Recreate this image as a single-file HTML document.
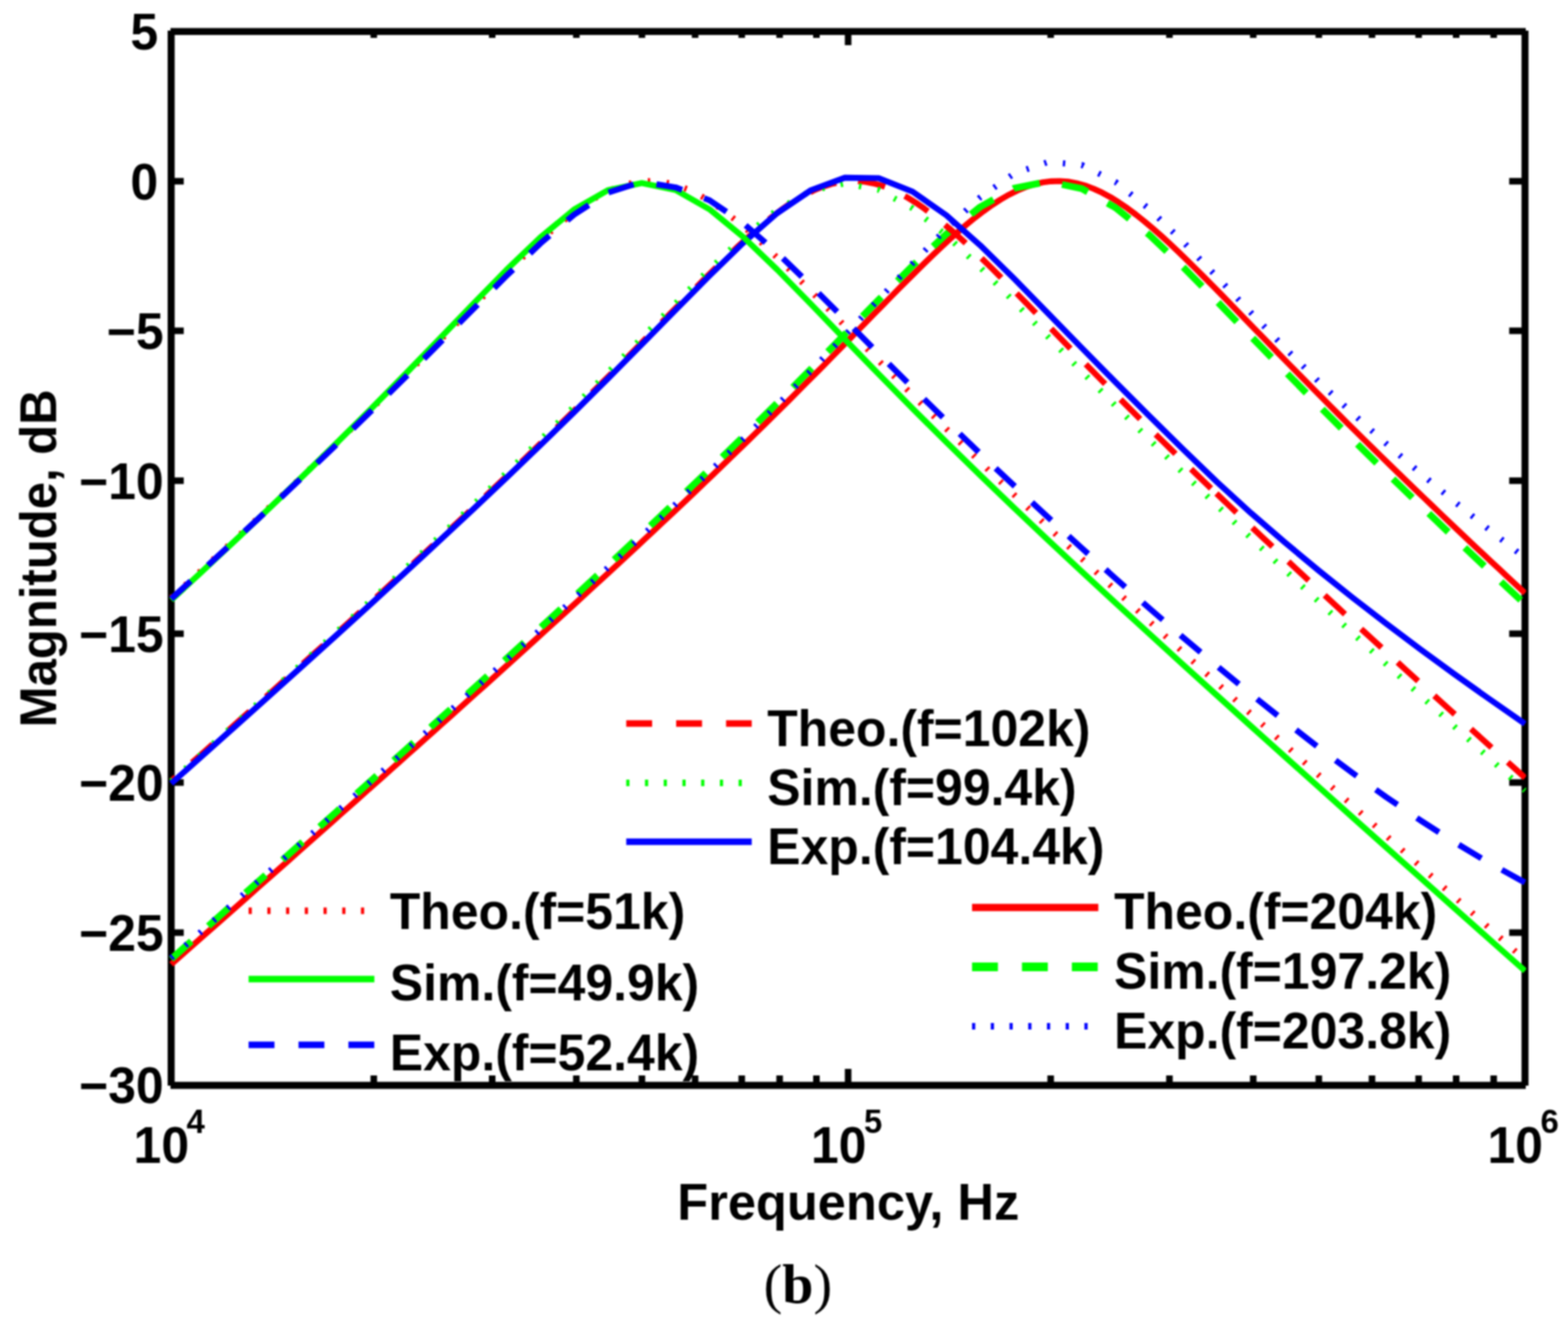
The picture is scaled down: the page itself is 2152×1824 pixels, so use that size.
<!DOCTYPE html>
<html lang="en"><head><meta charset="utf-8"><title>Magnitude response (b)</title>
<style>html,body{margin:0;padding:0;background:#fff}body{width:2152px;height:1824px;overflow:hidden}svg{display:block;filter:blur(0.8px)}text{font-family:"Liberation Sans",Arial,Helvetica,sans-serif;font-weight:bold;fill:#000}.t{font-size:70.5px}.s{font-size:46.5px}.c{font-family:"Liberation Serif","DejaVu Serif",serif;font-size:77px;font-weight:normal}.c tspan{font-weight:bold}.ax{stroke:#000;fill:none}.cv{fill:none;stroke-linejoin:round}</style></head><body>
<svg xmlns="http://www.w3.org/2000/svg" width="2152" height="1824" viewBox="0 0 2152 1824">
<defs><clipPath id="pc"><rect x="229" y="30" width="1865.5" height="1470"/></clipPath></defs>
<rect width="2152" height="1824" fill="#fff"/>
<path class="ax" stroke-width="9.6" d="M234 43.3 H2094 M234 1489.6 H2094 M234.9 42 V1490 M2093.0 42 V1490"/>
<path class="ax" stroke-width="9" d="M513.0 1489.6 V1476.0 M513.0 43.3 V52.0 M675.5 1489.6 V1476.0 M675.5 43.3 V52.0 M791.0 1489.6 V1476.0 M791.0 43.3 V52.0 M881.0 1489.6 V1476.0 M881.0 43.3 V52.0 M954.0 1489.6 V1476.0 M954.0 43.3 V52.0 M1018.0 1489.6 V1476.0 M1018.0 43.3 V52.0 M1070.0 1489.6 V1476.0 M1070.0 43.3 V52.0 M1120.5 1489.6 V1476.0 M1120.5 43.3 V52.0 M1442.0 1489.6 V1476.0 M1442.0 43.3 V52.0 M1605.0 1489.6 V1476.0 M1605.0 43.3 V52.0 M1720.0 1489.6 V1476.0 M1720.0 43.3 V52.0 M1810.0 1489.6 V1476.0 M1810.0 43.3 V52.0 M1883.0 1489.6 V1476.0 M1883.0 43.3 V52.0 M1947.0 1489.6 V1476.0 M1947.0 43.3 V52.0 M1998.5 1489.6 V1476.0 M1998.5 43.3 V52.0 M2050.0 1489.6 V1476.0 M2050.0 43.3 V52.0 M1164 1489.6 V1467 M1164 43.3 V62 M234.9 248.8 H252.2 M2093.0 248.8 H2071.3 M234.9 453.9 H252.2 M2093.0 453.9 H2071.3 M234.9 659.8 H252.2 M2093.0 659.8 H2071.3 M234.9 869.8 H252.2 M2093.0 869.8 H2071.3 M234.9 1074.1 H252.2 M2093.0 1074.1 H2071.3 M234.9 1279.9 H252.2 M2093.0 1279.9 H2071.3"/>
<g class="cv" clip-path="url(#pc)">
<path d="M235.0 1323.5 L246.6 1313.2 L258.2 1303.0 L269.8 1292.7 L281.4 1282.4 L293.1 1272.2 L304.7 1261.9 L316.3 1251.6 L327.9 1241.4 L339.5 1231.1 L351.1 1220.8 L362.7 1210.5 L374.4 1200.2 L386.0 1189.9 L397.6 1179.6 L409.2 1169.3 L420.8 1159.0 L432.4 1148.7 L444.0 1138.4 L455.6 1128.1 L467.2 1117.8 L478.9 1107.5 L490.5 1097.1 L502.1 1086.8 L513.7 1076.5 L525.3 1066.1 L536.9 1055.8 L548.5 1045.4 L560.1 1035.0 L571.8 1024.7 L583.4 1014.3 L595.0 1003.9 L606.6 993.5 L618.2 983.1 L629.8 972.7 L641.4 962.2 L653.0 951.8 L664.7 941.4 L676.3 930.9 L687.9 920.4 L699.5 909.9 L711.1 899.4 L722.7 888.9 L734.3 878.4 L746.0 867.8 L757.6 857.3 L769.2 846.7 L780.8 836.1 L792.4 825.4 L804.0 814.8 L815.6 804.1 L827.2 793.4 L838.9 782.7 L850.5 772.0 L862.1 761.2 L873.7 750.4 L885.3 739.6 L896.9 728.7 L908.5 717.8 L920.1 706.9 L931.8 695.9 L943.4 684.9 L955.0 673.9 L966.6 662.8 L978.2 651.7 L989.8 640.5 L1001.4 629.3 L1013.0 618.0 L1024.7 606.7 L1036.3 595.4 L1047.9 584.0 L1059.5 572.5 L1071.1 561.0 L1082.7 549.5 L1094.3 537.9 L1105.9 526.2 L1117.5 514.5 L1129.2 502.8 L1140.8 491.0 L1152.4 479.2 L1164.0 467.3 L1175.6 455.5 L1187.2 443.6 L1198.8 431.7 L1210.5 419.8 L1222.1 408.0 L1233.7 396.2 L1245.3 384.5 L1256.9 373.0 L1268.5 361.5 L1280.1 350.3 L1291.7 339.2 L1303.3 328.5 L1315.0 318.1 L1326.6 308.2 L1338.2 298.7 L1349.8 289.8 L1361.4 281.5 L1373.0 274.0 L1384.6 267.3 L1396.2 261.5 L1407.9 256.7 L1419.5 252.9 L1431.1 250.3 L1442.7 248.8 L1454.3 248.5 L1465.9 249.4 L1477.5 251.5 L1489.2 254.7 L1500.8 259.0 L1512.4 264.3 L1524.0 270.6 L1535.6 277.8 L1547.2 285.7 L1558.8 294.4 L1570.4 303.6 L1582.0 313.4 L1593.7 323.7 L1605.3 334.3 L1616.9 345.2 L1628.5 356.5 L1640.1 367.9 L1651.7 379.5 L1663.3 391.2 L1675.0 403.0 L1686.6 414.9 L1698.2 426.8 L1709.8 438.8 L1721.4 450.8 L1733.0 462.7 L1744.6 474.7 L1756.2 486.6 L1767.8 498.5 L1779.5 510.4 L1791.1 522.2 L1802.7 534.0 L1814.3 545.7 L1825.9 557.4 L1837.5 569.0 L1849.1 580.6 L1860.8 592.1 L1872.4 603.6 L1884.0 615.0 L1895.6 626.4 L1907.2 637.7 L1918.8 649.0 L1930.4 660.3 L1942.0 671.5 L1953.7 682.6 L1965.3 693.8 L1976.9 704.9 L1988.5 715.9 L2000.1 726.9 L2011.7 737.9 L2023.3 748.9 L2034.9 759.8 L2046.5 770.7 L2058.2 781.6 L2069.8 792.4 L2081.4 803.2 L2093.0 814.0" stroke="#ff0000" stroke-width="8.2"/>
<path d="M235.0 1316.3 L276.9 1278.9 L323.4 1237.6 L369.9 1196.2 L416.3 1154.7 L462.8 1113.2 L509.2 1071.6 L555.7 1029.9 L602.1 988.1 L648.5 946.2 L695.0 904.1 L741.5 861.7 L787.9 819.1 L834.4 776.1 L880.8 732.7 L927.2 688.8 L973.7 644.3 L1020.2 599.1 L1066.6 553.1 L1113.1 506.3 L1159.5 458.9 L1206.0 411.4 L1252.4 364.7 L1298.9 321.1 L1345.3 284.0 L1391.8 258.4 L1438.2 249.2 L1484.7 258.9 L1531.1 285.1 L1577.6 322.7 L1624.0 366.8 L1670.5 413.8 L1716.9 461.7 L1763.4 509.5 L1809.8 556.6 L1856.2 603.0 L1902.7 648.6 L1949.2 693.5 L1995.6 737.8 L2042.1 781.6 L2088.5 825.0 L2093.0 829.1" stroke="#00ff00" stroke-width="9.4" stroke-dasharray="37 31.2"/>
<path d="M235.0 1314.8 L276.9 1277.8 L323.4 1236.8 L369.9 1195.8 L416.3 1154.7 L462.8 1113.6 L509.2 1072.3 L555.7 1031.0 L602.1 989.6 L648.5 947.9 L695.0 906.1 L741.5 864.1 L787.9 821.7 L834.4 779.0 L880.8 735.8 L927.2 692.0 L973.7 647.5 L1020.2 602.2 L1066.6 556.0 L1113.1 508.6 L1159.5 460.2 L1206.0 410.9 L1252.4 361.5 L1298.9 313.7 L1345.3 270.8 L1391.8 238.2 L1438.2 222.4 L1484.7 226.4 L1531.1 249.8 L1577.6 287.1 L1624.0 332.1 L1670.5 380.3 L1716.9 429.1 L1763.4 477.5 L1809.8 523.7 L1856.2 567.3 L1902.7 609.0 L1949.2 649.2 L1995.6 688.0 L2042.1 725.6 L2088.5 762.2 L2093.0 765.7" stroke="#0000ff" stroke-width="8.2" stroke-dasharray="3.3 22.5"/>
<path d="M235.0 1071.8 L246.6 1061.5 L258.2 1051.3 L269.8 1041.0 L281.4 1030.7 L293.1 1020.4 L304.7 1010.1 L316.3 999.7 L327.9 989.4 L339.5 979.1 L351.1 968.7 L362.7 958.3 L374.4 948.0 L386.0 937.6 L397.6 927.2 L409.2 916.8 L420.8 906.3 L432.4 895.9 L444.0 885.4 L455.6 875.0 L467.2 864.5 L478.9 854.0 L490.5 843.4 L502.1 832.9 L513.7 822.3 L525.3 811.7 L536.9 801.1 L548.5 790.5 L560.1 779.8 L571.8 769.1 L583.4 758.4 L595.0 747.7 L606.6 736.9 L618.2 726.1 L629.8 715.2 L641.4 704.4 L653.0 693.5 L664.7 682.5 L676.3 671.5 L687.9 660.5 L699.5 649.4 L711.1 638.3 L722.7 627.1 L734.3 615.9 L746.0 604.6 L757.6 593.3 L769.2 582.0 L780.8 570.6 L792.4 559.1 L804.0 547.6 L815.6 536.0 L827.2 524.4 L838.9 512.8 L850.5 501.0 L862.1 489.3 L873.7 477.5 L885.3 465.7 L896.9 453.9 L908.5 442.0 L920.1 430.2 L931.8 418.4 L943.4 406.6 L955.0 394.8 L966.6 383.2 L978.2 371.6 L989.8 360.3 L1001.4 349.1 L1013.0 338.1 L1024.7 327.4 L1036.3 317.1 L1047.9 307.2 L1059.5 297.8 L1071.1 288.9 L1082.7 280.7 L1094.3 273.3 L1105.9 266.7 L1117.5 261.0 L1129.2 256.3 L1140.8 252.6 L1152.4 250.1 L1164.0 248.7 L1175.6 248.5 L1187.2 249.5 L1198.8 251.6 L1210.5 254.9 L1222.1 259.3 L1233.7 264.7 L1245.3 271.0 L1256.9 278.2 L1268.5 286.2 L1280.1 294.9 L1291.7 304.2 L1303.3 314.0 L1315.0 324.2 L1326.6 334.9 L1338.2 345.8 L1349.8 357.0 L1361.4 368.4 L1373.0 380.0 L1384.6 391.7 L1396.2 403.5 L1407.9 415.4 L1419.5 427.3 L1431.1 439.3 L1442.7 451.2 L1454.3 463.1 L1465.9 475.1 L1477.5 487.0 L1489.2 498.8 L1500.8 510.7 L1512.4 522.5 L1524.0 534.2 L1535.6 545.9 L1547.2 557.5 L1558.8 569.1 L1570.4 580.7 L1582.0 592.2 L1593.7 603.6 L1605.3 615.0 L1616.9 626.4 L1628.5 637.7 L1640.1 649.0 L1651.7 660.2 L1663.3 671.4" stroke="#ff0000" stroke-width="8.2" stroke-dasharray="38 30" stroke-dashoffset="30"/>
<path d="M1669.5 677.3 L1675.0 682.5 L1686.6 693.6 L1698.2 704.7 L1709.8 715.7 L1721.4 726.7 L1733.0 737.7 L1744.6 748.6 L1756.2 759.5 L1767.8 770.4 L1779.5 781.2 L1791.1 792.0 L1802.7 802.8 L1814.3 813.6 L1825.9 824.3 L1837.5 835.1 L1849.1 845.8 L1860.8 856.5 L1872.4 867.1 L1884.0 877.8 L1895.6 888.4 L1907.2 899.0 L1918.8 909.6 L1930.4 920.2 L1942.0 930.8 L1953.7 941.4 L1965.3 951.9 L1976.9 962.5 L1988.5 973.0 L2000.1 983.5 L2011.7 994.0 L2023.3 1004.5 L2034.9 1015.0 L2046.5 1025.5 L2058.2 1036.0 L2069.8 1046.5 L2081.4 1056.9 L2093.0 1067.4" stroke="#ff0000" stroke-width="8.2" stroke-dasharray="38 30"/>
<path d="M235.0 1072.4 L276.9 1034.7 L323.4 992.9 L369.9 951.0 L416.3 908.9 L462.8 866.5 L509.2 823.9 L555.7 780.9 L602.1 737.5 L648.5 693.6 L695.0 649.1 L741.5 603.9 L787.9 558.0 L834.4 511.2 L880.8 463.8 L927.2 416.3 L973.7 369.5 L1020.2 325.6 L1066.6 288.1 L1113.1 261.8 L1159.5 251.7 L1206.0 260.6 L1252.4 286.0 L1298.9 323.2 L1345.3 367.1 L1391.8 414.1 L1438.2 462.1 L1484.7 509.9 L1531.1 557.1 L1577.6 603.5 L1624.0 649.2 L1670.5 694.2 L1716.9 738.5 L1763.4 782.4 L1809.8 825.8 L1856.2 868.9 L1902.7 911.7 L1949.2 954.2 L1995.6 996.6 L2042.1 1038.8 L2088.5 1080.9 L2093.0 1085.0" stroke="#00ff00" stroke-width="8.2" stroke-dasharray="3.3 22.5"/>
<path d="M235.0 1075.3 L276.9 1037.9 L323.4 996.4 L369.9 954.7 L416.3 912.9 L462.8 870.9 L509.2 828.7 L555.7 786.1 L602.1 743.1 L648.5 699.7 L695.0 655.7 L741.5 611.1 L787.9 565.7 L834.4 519.5 L880.8 472.6 L927.2 425.3 L973.7 378.3 L1020.2 333.1 L1066.6 292.5 L1113.1 261.0 L1159.5 243.8 L1206.0 244.5 L1252.4 263.0 L1298.9 295.5 L1345.3 336.7 L1391.8 382.4 L1438.2 429.8 L1484.7 477.5 L1531.1 524.7 L1577.6 571.1 L1624.0 616.8 L1670.5 661.7 L1716.9 704.2 L1763.4 744.4 L1809.8 783.0 L1856.2 820.1 L1902.7 856.1 L1949.2 891.0 L1995.6 924.9 L2042.1 958.0 L2088.5 990.3 L2093.0 993.4" stroke="#0000ff" stroke-width="8.2"/>
<path d="M235.0 820.5 L246.6 810.0 L258.2 799.4 L269.8 788.8 L281.4 778.1 L293.1 767.4 L304.7 756.7 L316.3 746.0 L327.9 735.3 L339.5 724.5 L351.1 713.7 L362.7 702.8 L374.4 691.9 L386.0 681.0 L397.6 670.0 L409.2 659.0 L420.8 647.9 L432.4 636.8 L444.0 625.7 L455.6 614.5 L467.2 603.2 L478.9 591.9 L490.5 580.6 L502.1 569.2 L513.7 557.7 L525.3 546.2 L536.9 534.7 L548.5 523.1 L560.1 511.5 L571.8 499.8 L583.4 488.0 L595.0 476.3 L606.6 464.5 L618.2 452.7 L629.8 440.8 L641.4 429.0 L653.0 417.2 L664.7 405.4 L676.3 393.7 L687.9 382.1 L699.5 370.6 L711.1 359.2 L722.7 348.0 L734.3 337.1 L746.0 326.5 L757.6 316.2 L769.2 306.3 L780.8 297.0 L792.4 288.2 L804.0 280.1 L815.6 272.7 L827.2 266.2 L838.9 260.5 L850.5 255.9 L862.1 252.4 L873.7 249.9 L885.3 248.6 L896.9 248.5 L908.5 249.6 L920.1 251.8 L931.8 255.2 L943.4 259.7 L955.0 265.1 L966.6 271.6 L978.2 278.8 L989.8 286.9 L1001.4 295.6 L1013.0 304.9 L1024.7 314.8 L1036.3 325.0 L1047.9 335.7 L1059.5 346.7 L1071.1 357.9 L1082.7 369.3 L1094.3 380.9 L1105.9 392.6 L1117.5 404.4 L1129.2 416.3 L1140.8 428.2 L1152.4 440.1 L1164.0 452.1 L1175.6 464.0 L1187.2 475.9 L1198.8 487.8 L1210.5 499.7 L1222.1 511.5 L1233.7 523.3 L1245.3 535.0 L1256.9 546.7 L1268.5 558.3 L1280.1 569.9 L1291.7 581.5 L1303.3 593.0 L1315.0 604.4 L1326.6 615.8 L1338.2 627.2 L1349.8 638.5 L1361.4 649.7 L1373.0 660.9 L1384.6 672.1 L1396.2 683.2 L1407.9 694.3 L1419.5 705.4 L1431.1 716.4 L1442.7 727.4 L1454.3 738.3 L1465.9 749.3 L1477.5 760.1 L1489.2 771.0 L1500.8 781.8 L1512.4 792.7 L1524.0 803.4 L1535.6 814.2 L1547.2 824.9 L1558.8 835.7 L1570.4 846.4 L1582.0 857.0 L1593.7 867.7 L1605.3 878.4 L1616.9 889.0 L1628.5 899.6 L1640.1 910.2 L1651.7 920.8 L1663.3 931.4 L1675.0 941.9 L1686.6 952.5 L1698.2 963.0 L1709.8 973.5 L1721.4 984.0 L1733.0 994.5 L1744.6 1005.0 L1756.2 1015.5 L1767.8 1026.0 L1779.5 1036.5 L1791.1 1047.0 L1802.7 1057.4 L1814.3 1067.9 L1825.9 1078.3 L1837.5 1088.8 L1849.1 1099.2 L1860.8 1109.6 L1872.4 1120.0 L1884.0 1130.5 L1895.6 1140.9 L1907.2 1151.3 L1918.8 1161.7 L1930.4 1172.1 L1942.0 1182.5 L1953.7 1192.9 L1965.3 1203.3 L1976.9 1213.7 L1988.5 1224.1 L2000.1 1234.5 L2011.7 1244.9 L2023.3 1255.3 L2034.9 1265.6 L2046.5 1276.0 L2058.2 1286.4 L2069.8 1296.8 L2081.4 1307.1 L2093.0 1317.5" stroke="#ff0000" stroke-width="8.2" stroke-dasharray="3.3 22.5"/>
<path d="M235.0 823.6 L276.9 784.7 L323.4 741.3 L369.9 697.3 L416.3 652.7 L462.8 607.3 L509.2 561.1 L555.7 514.0 L602.1 466.2 L648.5 418.0 L695.0 370.5 L741.5 325.9 L787.9 287.6 L834.4 261.0 L880.8 251.3 L927.2 260.7 L973.7 287.2 L1020.2 325.4 L1066.6 370.0 L1113.1 417.5 L1159.5 465.7 L1206.0 513.5 L1252.4 560.6 L1298.9 606.9 L1345.3 652.3 L1391.8 697.0 L1438.2 741.0 L1484.7 784.5 L1531.1 827.5 L1577.6 870.1 L1624.0 912.5 L1670.5 954.6 L1716.9 996.6 L1763.4 1038.4 L1809.8 1080.0 L1856.2 1121.6 L1902.7 1163.1 L1949.2 1204.5 L1995.6 1245.9 L2042.1 1287.2 L2088.5 1328.5 L2093.0 1332.5" stroke="#00ff00" stroke-width="8.2"/>
<path d="M235.0 821.9 L276.9 783.6 L323.4 740.8 L369.9 697.5 L416.3 653.7 L462.8 609.3 L509.2 564.3 L555.7 518.4 L602.1 472.0 L648.5 425.1 L695.0 378.7 L741.5 334.2 L787.9 294.6 L834.4 264.4 L880.8 249.6 L927.2 257.2 L973.7 274.8 L1020.2 306.5 L1066.6 346.9 L1113.1 391.9 L1159.5 438.5 L1206.0 485.5 L1252.4 532.0 L1298.9 577.7 L1345.3 622.6 L1391.8 666.6 L1438.2 709.8 L1484.7 752.3 L1531.1 794.0 L1577.6 835.0 L1624.0 875.1 L1670.5 914.3 L1716.9 952.7 L1763.4 989.9 L1809.8 1026.0 L1856.2 1060.8 L1902.7 1094.1 L1949.2 1125.7 L1995.6 1155.5 L2042.1 1183.3 L2088.5 1208.8 L2093.0 1211.1" stroke="#0000ff" stroke-width="8.2" stroke-dasharray="36.2 32.17"/>
</g>
<text class="t" text-anchor="end" transform="translate(217.2 68.4) scale(0.972 1)">5</text>
<text class="t" text-anchor="end" transform="translate(217.2 273.7) scale(0.972 1)">0</text>
<text class="t" text-anchor="end" transform="translate(224.7 478.8) scale(0.972 1)">−5</text>
<text class="t" text-anchor="end" transform="translate(224.7 684.7) scale(0.972 1)">−10</text>
<text class="t" text-anchor="end" transform="translate(224.7 894.7) scale(0.972 1)">−15</text>
<text class="t" text-anchor="end" transform="translate(224.7 1099.0) scale(0.972 1)">−20</text>
<text class="t" text-anchor="end" transform="translate(224.7 1304.8) scale(0.972 1)">−25</text>
<text class="t" text-anchor="end" transform="translate(224.7 1514.4) scale(0.972 1)">−30</text>
<text class="t" transform="translate(183.3 1596.3) scale(0.972 1)">10<tspan class="s" dy="-41.5" dx="-3.5">4</tspan></text>
<text class="t" transform="translate(1113.0 1596.3) scale(0.972 1)">10<tspan class="s" dy="-41.5" dx="-3.5">5</tspan></text>
<text class="t" transform="translate(2041.5 1596.3) scale(0.972 1)">10<tspan class="s" dy="-41.5" dx="-3.5">6</tspan></text>
<text class="t" text-anchor="middle" transform="translate(1164.2 1674.0) scale(0.985 1)">Frequency, Hz</text>
<text class="t" text-anchor="middle" transform="translate(77.2 766.3) rotate(-90) scale(0.955 1)">Magnitude, dB</text>
<text class="c" text-anchor="middle" x="1095" y="1788">(<tspan>b</tspan>)</text>
<path class="cv" d="M859.5 993.0 H1031.7" stroke="#ff0000" stroke-width="9" stroke-dasharray="35.5 33"/>
<text class="t" transform="translate(1053.0 1024.0) scale(0.972 1)">Theo.(f=102k)</text>
<path class="cv" d="M859.5 1074.5 H1031.7" stroke="#00ff00" stroke-width="9" stroke-dasharray="4.4 21.3"/>
<text class="t" transform="translate(1053.0 1105.0) scale(0.972 1)">Sim.(f=99.4k)</text>
<path class="cv" d="M859.5 1155.2 H1031.7" stroke="#0000ff" stroke-width="9"/>
<text class="t" transform="translate(1053.0 1186.0) scale(0.972 1)">Exp.(f=104.4k)</text>
<path class="cv" d="M341.2 1250.0 H513.8" stroke="#ff0000" stroke-width="9" stroke-dasharray="4.4 21.3"/>
<text class="t" transform="translate(535.0 1275.2) scale(0.972 1)">Theo.(f=51k)</text>
<path class="cv" d="M341.2 1343.8 H513.8" stroke="#00ff00" stroke-width="9"/>
<text class="t" transform="translate(535.0 1373.2) scale(0.972 1)">Sim.(f=49.9k)</text>
<path class="cv" d="M341.2 1434.0 H513.8" stroke="#0000ff" stroke-width="9" stroke-dasharray="35.5 33"/>
<text class="t" transform="translate(535.0 1468.6) scale(0.972 1)">Exp.(f=52.4k)</text>
<path class="cv" d="M1334.1 1245.4 H1507.4" stroke="#ff0000" stroke-width="10"/>
<text class="t" transform="translate(1529.0 1274.7) scale(0.972 1)">Theo.(f=204k)</text>
<path class="cv" d="M1334.1 1327.1 H1507.4" stroke="#00ff00" stroke-width="12" stroke-dasharray="35.5 33"/>
<text class="t" transform="translate(1529.0 1357.4) scale(0.972 1)">Sim.(f=197.2k)</text>
<path class="cv" d="M1334.1 1408.5 H1507.4" stroke="#0000ff" stroke-width="9" stroke-dasharray="4.4 21.3"/>
<text class="t" transform="translate(1529.0 1438.8) scale(0.972 1)">Exp.(f=203.8k)</text>
</svg></body></html>
